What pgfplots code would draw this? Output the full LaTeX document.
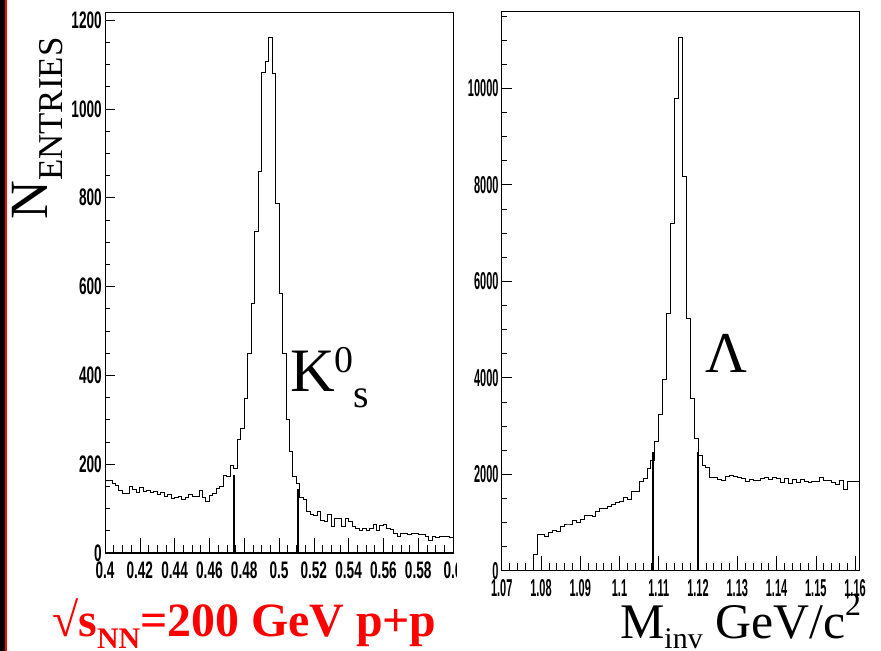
\documentclass[border=0pt]{standalone}
\usepackage{fontspec}
\setmainfont{Liberation Serif}
\newfontfamily\tickfont{Liberation Sans}
\usepackage{graphicx}
\usepackage{pgfplots}
\pgfplotsset{compat=1.18}
\newcommand\lt[1]{\scalebox{0.57}[1]{\fontsize{24}{24}\selectfont\tickfont\bfseries #1}}
\newcommand\rt[1]{\scalebox{0.45}[1]{\fontsize{24.5}{24.5}\selectfont\tickfont\bfseries #1}}
\pgfplotsset{rootstyle/.style={
  scale only axis, anchor=south west,
  axis line style={line width=0.8bp},
  tick align=inside, xtick pos=bottom, ytick pos=left,
  tick style={black, line width=0.6bp},
  xtick style={/pgfplots/major tick length=15bp,/pgfplots/minor tick length=8bp},
  ytick style={/pgfplots/major tick length=10bp,/pgfplots/minor tick length=5bp},
  scaled x ticks=false, scaled y ticks=false,
  /pgf/number format/assume math mode=true,
  /pgf/number format/1000 sep={},
  x tick label style={inner sep=0bp, anchor=north, yshift=-9bp},
  y tick label style={inner sep=0bp, anchor=east, xshift=-3bp},
}}
\begin{document}
\begin{tikzpicture}
\useasboundingbox (0,0) rectangle (881bp,651bp);
\fill[white] (0,0) rectangle (881bp,651bp);
\fill[black] (0,0) rectangle (4.5bp,651bp);
\fill[red] (4.5bp,0) rectangle (7bp,651bp);
% ---------- left panel: K0s ----------
\begin{axis}[rootstyle, at={(105bp,98bp)}, width=348bp, height=541bp,
  xmin=0.4, xmax=0.6, ymin=0, ymax=1218,
  xtick={0.4,0.42,0.44,0.46,0.48,0.5,0.52,0.54,0.56,0.58,0.6},
  ytick={0,200,400,600,800,1000,1200},
  minor x tick num=3, minor y tick num=3,
  xticklabel={\lt{\pgfmathprintnumber{\tick}}},
  yticklabel={\lt{\pgfmathprintnumber{\tick}}}]
\addplot[const plot, black, line width=0.9bp] coordinates {
(0.400,163)(0.402,164)(0.404,156)(0.406,152)(0.408,140)(0.410,133)(0.412,135)(0.414,150)(0.416,142)(0.418,136)
(0.420,148)(0.422,138)(0.424,141)(0.426,137)(0.428,138)(0.430,132)(0.432,136)(0.434,128)(0.436,132)(0.438,122)
(0.440,125)(0.442,128)(0.444,120)(0.446,124)(0.448,131)(0.450,128)(0.452,128)(0.454,140)(0.456,126)(0.458,115)
(0.460,130)(0.462,133)(0.464,145)(0.466,150)(0.468,174)(0.470,172)(0.472,197)(0.474,190)(0.476,255)(0.478,281)
(0.480,347)(0.482,450)(0.484,561)(0.486,725)(0.488,860)(0.490,1081)(0.492,1106)(0.494,1160)(0.496,1079)(0.498,788)
(0.500,585)(0.502,450)(0.504,300)(0.506,229)(0.508,172)(0.510,157)(0.512,126)(0.514,120)(0.516,93)(0.518,87)
(0.520,84)(0.522,93)(0.524,74)(0.526,71)(0.528,86)(0.530,59)(0.532,78)(0.534,78)(0.536,59)(0.538,78)
(0.540,71)(0.542,59)(0.544,56)(0.546,50)(0.548,56)(0.550,50)(0.552,56)(0.554,65)(0.556,50)(0.558,62)
(0.560,65)(0.562,56)(0.564,54)(0.566,44)(0.568,37)(0.570,43)(0.572,43)(0.574,42)(0.576,45)(0.578,43)
(0.580,42)(0.582,42)(0.584,37)(0.586,29)(0.588,38)(0.590,36)(0.592,38)(0.594,37)(0.596,37)(0.598,36)(0.600,36)};
\addplot[black, line width=1.8bp] coordinates {(0.4741,0)(0.4741,176)};
\addplot[black, line width=1.8bp] coordinates {(0.5111,0)(0.5111,144)};
\draw[line width=1.6bp] (rel axis cs:0,0) -- (rel axis cs:1,0);
\draw[line width=1.0bp] (rel axis cs:0,0) -- (rel axis cs:0,1);
\end{axis}
\fill[white] (456.5bp,60bp) rectangle (475bp,96bp);
% ---------- right panel: Lambda ----------
\begin{axis}[rootstyle, at={(501.7bp,80.3bp)}, width=357.3bp, height=559.7bp,
  xmin=1.07, xmax=1.161, ymin=0, ymax=11600,
  xtick={1.07,1.08,1.09,1.1,1.11,1.12,1.13,1.14,1.15,1.16},
  ytick={0,2000,4000,6000,8000,10000},
  minor x tick num=4,
  minor ytick={500,1000,1500,2000,2500,3000,3500,4000,4500,5000,5500,6000,6500,7000,7500,8000,8500,9000,9500,10000,10500,11000,11500},
  xticklabel={\rt{\pgfmathprintnumber{\tick}}},
  yticklabel={\rt{\pgfmathprintnumber{\tick}}}]
\addplot[const plot, black, line width=0.9bp] coordinates {
(1.070,0)(1.078,346)(1.079,760)(1.080,760)(1.081,719)(1.082,788)(1.083,830)(1.084,810)(1.085,912)(1.086,968)
(1.087,968)(1.088,1051)(1.089,995)(1.090,1065)(1.091,1155)(1.092,1155)(1.093,1120)(1.094,1223)(1.095,1293)(1.096,1293)
(1.097,1327)(1.098,1383)(1.099,1417)(1.100,1430)(1.101,1521)(1.102,1487)(1.103,1638)(1.104,1650)(1.105,1845)(1.106,1907)
(1.107,2122)(1.108,2295)(1.109,2674)(1.110,3228)(1.111,3968)(1.112,5336)(1.113,7187)(1.114,9793)(1.115,11049)(1.116,8168)
(1.117,5232)(1.118,3574)(1.119,2744)(1.120,2398)(1.121,2176)(1.122,2150)(1.123,1936)(1.124,1936)(1.125,1895)(1.126,1867)
(1.127,1963)(1.128,1977)(1.129,1963)(1.130,1936)(1.131,1910)(1.132,1845)(1.133,1895)(1.134,1880)(1.135,1880)(1.136,1910)
(1.137,1925)(1.138,1895)(1.139,1936)(1.140,1910)(1.141,1832)(1.142,1910)(1.143,1811)(1.144,1895)(1.145,1832)(1.146,1895)
(1.147,1850)(1.148,1838)(1.149,1850)(1.150,1850)(1.151,1936)(1.152,1867)(1.153,1880)(1.154,1838)(1.155,1797)(1.156,1880)
(1.157,1688)(1.158,1850)(1.159,1845)(1.160,1845)(1.161,1845)};
\addplot[black, line width=1.8bp] coordinates {(1.1085,0)(1.1085,2467)};
\addplot[black, line width=1.8bp] coordinates {(1.1200,0)(1.1200,2467)};
\draw[line width=1.6bp] (rel axis cs:0,0) -- (rel axis cs:1,0);
\draw[line width=1.0bp] (rel axis cs:0,0) -- (rel axis cs:0,1);
\end{axis}
% ---------- labels ----------
\node[rotate=90, anchor=base west, inner sep=0] at (47bp,431bp)
  {\fontsize{54}{54}\selectfont N\raisebox{-15bp}{\fontsize{35}{35}\selectfont ENTRIES}};
\node[anchor=base west, inner sep=0] at (290bp,259bp)
  {\fontsize{62}{62}\selectfont K\raisebox{19bp}{\fontsize{38}{38}\selectfont 0}\raisebox{-16bp}{\fontsize{40}{40}\selectfont s}};
\node[anchor=base west, inner sep=0] at (705bp,278bp) {\fontsize{58}{58}\selectfont Λ};
\node[anchor=base west, inner sep=0] at (620bp,13bp)
  {\fontsize{50}{50}\selectfont M\raisebox{-10bp}{\fontsize{30}{30}\selectfont inv} GeV/c\raisebox{23bp}{\fontsize{32}{32}\selectfont 2}};
\node[anchor=base west, inner sep=0, text=red] at (52bp,15bp)
  {\fontsize{48}{48}\selectfont\bfseries √s\raisebox{-12bp}{\fontsize{30}{30}\selectfont NN}=200 GeV p+p};
\end{tikzpicture}
\end{document}
